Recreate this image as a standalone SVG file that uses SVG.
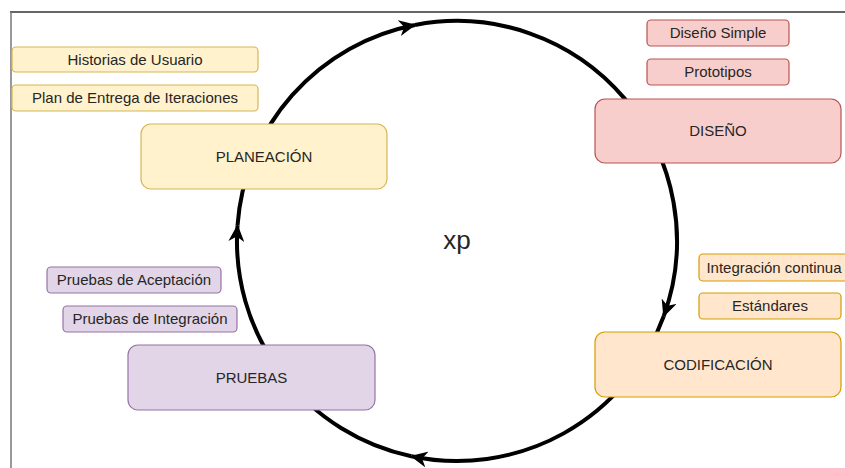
<svg xmlns="http://www.w3.org/2000/svg" width="845" height="468" viewBox="0 0 845 468">
<defs>
<marker id="arr" markerWidth="18" markerHeight="16" refX="16" refY="8" orient="auto" markerUnits="userSpaceOnUse">
<path d="M0,0 L17,8 L0,16 L5,8 Z" fill="#000"/>
</marker>
<style>
text{font-family:"Liberation Sans",Arial,sans-serif;font-size:15px;fill:#262626;text-anchor:middle}
.y{fill:#fff2cc;stroke:#d6b656;stroke-width:1.2}
.r{fill:#f8cecc;stroke:#b85450;stroke-width:1.2}
.o{fill:#ffe6cc;stroke:#d79b00;stroke-width:1.2}
.p{fill:#e1d5e7;stroke:#9673a6;stroke-width:1.2}
.c{fill:none;stroke:#000;stroke-width:4;marker-end:url(#arr)}
</style>
</defs>
<rect width="845" height="468" fill="#fff"/>
<line x1="10" y1="12" x2="845" y2="12" stroke="#333" stroke-width="1.3"/>
<line x1="11" y1="12" x2="11" y2="468" stroke="#777" stroke-width="1.5"/>
<g id="connectors">
<path class="c" d="M237.5,225.6 A220,220 0 0 1 415,25"/>
<path class="c" d="M415,25 A220,220 0 0 1 663.7,316.2"/>
<path class="c" d="M663.7,316.2 A220,220 0 0 1 411.3,456.2"/>
<path class="c" d="M411.3,456.2 A220,220 0 0 1 237.5,225.6"/>
</g>
<g id="xp"><text x="457" y="249" style="font-size:26px">xp</text></g>
<g id="historias"><rect class="y" x="12" y="47" width="246" height="25" rx="4"/><text x="135" y="64.5">Historias de Usuario</text></g>
<g id="plan"><rect class="y" x="12" y="85" width="246" height="26" rx="4"/><text x="135" y="103">Plan de Entrega de Iteraciones</text></g>
<g id="planeacion"><rect class="y" x="141" y="124" width="246" height="65" rx="10"/><text x="264" y="161.5">PLANEACIÓN</text></g>
<g id="disenoSimple"><rect class="r" x="647" y="20" width="142" height="26" rx="4"/><text x="718" y="38">Diseño Simple</text></g>
<g id="prototipos"><rect class="r" x="647" y="59" width="142" height="26" rx="4"/><text x="718" y="77">Prototipos</text></g>
<g id="diseno"><rect class="r" x="595" y="99" width="246" height="64" rx="10"/><text x="718" y="136">DISEÑO</text></g>
<g id="integracionContinua"><rect class="o" x="699" y="254" width="150" height="27" rx="4"/><text x="774" y="272.5">Integración continua</text></g>
<g id="estandares"><rect class="o" x="699" y="293" width="142" height="26" rx="4"/><text x="770" y="311">Estándares</text></g>
<g id="codificacion"><rect class="o" x="595" y="332" width="246" height="65" rx="10"/><text x="718" y="369.5">CODIFICACIÓN</text></g>
<g id="aceptacion"><rect class="p" x="47" y="267" width="174" height="26" rx="4"/><text x="134" y="285">Pruebas de Aceptación</text></g>
<g id="integracion"><rect class="p" x="63" y="306" width="174" height="26" rx="4"/><text x="150" y="324">Pruebas de Integración</text></g>
<g id="pruebas"><rect class="p" x="128" y="345" width="247" height="65" rx="10"/><text x="251.5" y="382.5">PRUEBAS</text></g>
</svg>
